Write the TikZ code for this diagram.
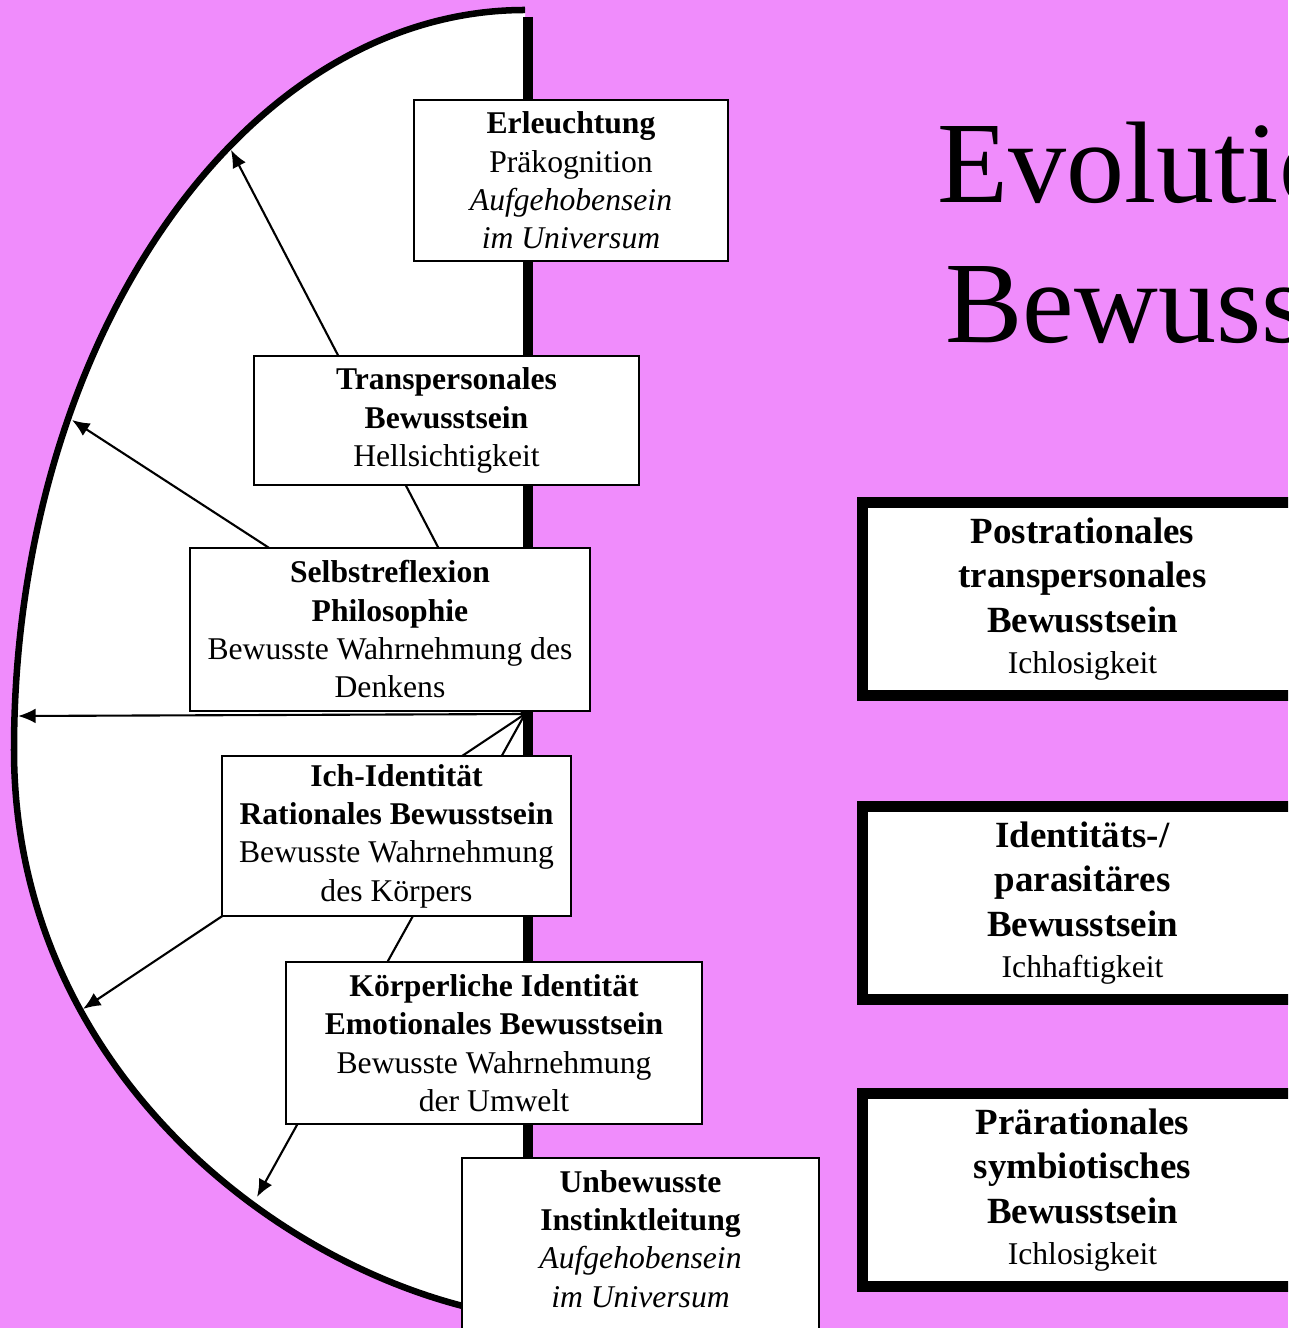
\documentclass[tikz,border=0pt]{standalone}
\usepackage{fontspec}
\setmainfont{Liberation Serif}
\usetikzlibrary{arrows,arrows.meta}
\definecolor{lilac}{RGB}{240,140,252}

\tikzset{
  stagetext/.style={align=center, inner sep=0pt, font=\fontsize{9}{10.9}\selectfont},
  stage/.style={stagetext, draw, fill=white, line width=0.5pt},
  level/.style={draw, fill=white, line width=0.11cm, align=center, inner sep=0pt,
    minimum width=4.4cm, minimum height=1.92cm, font=\fontsize{10.5}{12.7}\selectfont},
}

\begin{document}
\begin{tikzpicture}[x=0.01cm,y=-0.01cm]
    \useasboundingbox (0,0) rectangle (1288,1328);
    \clip (0,0) rectangle (1288,1328);
    \fill[lilac] (0,0) rectangle (1288,1328);

    % the white half
    \fill[white] (525,10) .. controls (243,10) and (14,342) .. (14,750)
      .. controls (14,1080) and (300,1290) .. (525,1318) -- cycle;
    \draw[line width=0.065cm] (525,10) .. controls (243,10) and (14,342) .. (14,750)
      .. controls (14,1080) and (300,1290) .. (525,1318);

    \coordinate (hub) at (525,714);
    \coordinate (tip1) at (231,150);
    \coordinate (tip2) at (72,420);
    \coordinate (tip3) at (18,716);
    \coordinate (tip4) at (83,1009);
    \coordinate (tip5) at (257,1197);
    \foreach \i in {1,...,5} {
      \draw[-{Latex[length=5pt,width=4.2pt]},line width=0.6pt] (hub) -- (tip\i);
    }
    \draw[line width=0.1cm] (528,17) -- (528,1300);

    % stages
    \node[stage,minimum width=3.14cm,minimum height=1.61cm] (erleucht) at (571,180.5)
      {\textbf{Erleuchtung}\\Präkognition\\\textit{Aufgehobensein}\\\textit{im Universum}};
    \node[stage,minimum width=3.85cm,minimum height=1.29cm] (transp) at (446.5,420.5)
      {\textbf{Transpersonales}\\\textbf{Bewusstsein}\\Hellsichtigkeit};
    \node[stage,minimum width=4.0cm,minimum height=1.63cm] (selbst) at (390,629.5)
      {\textbf{Selbstreflexion}\\\textbf{Philosophie}\\Bewusste Wahrnehmung des\\Denkens};
    \node[stage,minimum width=3.49cm,minimum height=1.6cm] (ich) at (396.5,836)
      {\textbf{Ich-Identität}\\\textbf{Rationales Bewusstsein}\\Bewusste Wahrnehmung\\des Körpers};
    \node[stage,minimum width=4.16cm,minimum height=1.62cm] (koerper) at (494,1043)
      {\textbf{Körperliche Identität}\\\textbf{Emotionales Bewusstsein}\\Bewusste Wahrnehmung\\der Umwelt};
    \node[stage,minimum width=3.57cm,minimum height=2cm,anchor=north] (unframe) at (640.5,1157) {};
    \node[stagetext] (unbewusst) at (640.5,1239)
      {\textbf{Unbewusste}\\\textbf{Instinktleitung}\\\textit{Aufgehobensein}\\\textit{im Universum}};

    % levels
    \node[level] (postrat) at (1082.5,599)
      {\textbf{Postrationales}\\\textbf{transpersonales}\\\textbf{Bewusstsein}\\[-1pt]{\fontsize{9}{10.9}\selectfont Ichlosigkeit}};
    \node[level] (ident) at (1082.5,903)
      {\textbf{Identitäts-/}\\\textbf{parasitäres}\\\textbf{Bewusstsein}\\[-1pt]{\fontsize{9}{10.9}\selectfont Ichhaftigkeit}};
    \node[level] (prerat) at (1082.5,1190)
      {\textbf{Prärationales}\\\textbf{symbiotisches}\\\textbf{Bewusstsein}\\[-1pt]{\fontsize{9}{10.9}\selectfont Ichlosigkeit}};

    \node[align=center,inner sep=0pt,anchor=north,font=\fontsize{33}{40}\selectfont] (title)
      at (1258,121) {Evolution des\\Bewusstseins};
\end{tikzpicture}
\end{document}
